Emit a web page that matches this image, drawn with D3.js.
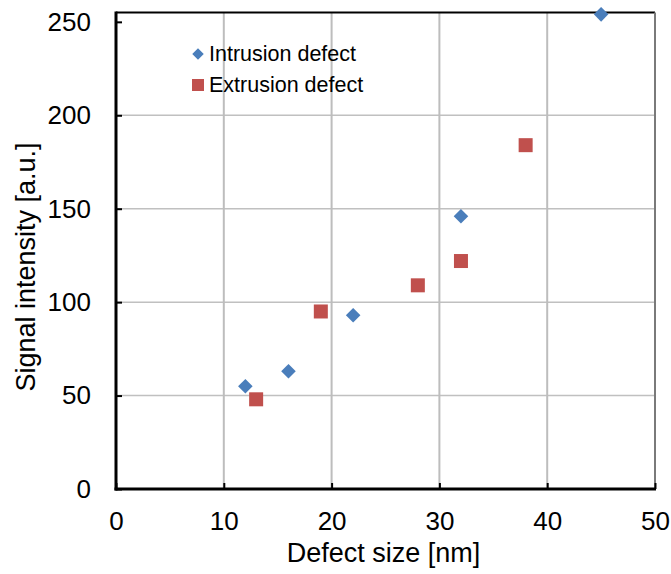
<!DOCTYPE html>
<html>
<head>
<meta charset="utf-8">
<title>Signal intensity vs defect size</title>
<script src="https://cdn.jsdelivr.net/npm/d3@7"></script>
<style>
  body { margin: 0; background: #fff; }
  text { font-family: "Liberation Sans", Arial, sans-serif; fill: #000; }
</style>
</head>
<body>
<svg width="671" height="574"></svg>
<script>
// data
var intrusionSize = [12, 16, 22, 32, 45];
var intrusionSignal = [55, 63, 93, 146, 254];
var extrusionSize = [13, 19, 28, 32, 38];
var extrusionSignal = [48, 95, 109, 122, 184];
var xTicks = [0, 10, 20, 30, 40, 50];
var yTicks = [0, 50, 100, 150, 200, 250];
var seriesNames = ["Intrusion defect", "Extrusion defect"];

var svg = d3.select("svg");
var margin = {top: 12.5, right: 16, bottom: 85, left: 116};
var width = 671 - margin.left - margin.right;
var height = 574 - margin.top - margin.bottom;

var x = d3.scaleLinear().domain([0, 50]).range([0, width]);
var y = d3.scaleLinear().domain([0, 255]).range([height, 0]);

var g = svg.append("g")
  .attr("transform", "translate(" + margin.left + "," + margin.top + ")");

// gridlines
g.append("g").selectAll("line")
  .data(yTicks.filter(function(d){ return d > 0 && d < 250; }))
  .enter().append("line")
  .attr("x1", 0).attr("x2", width)
  .attr("y1", function(d){ return y(d); })
  .attr("y2", function(d){ return y(d); })
  .attr("stroke", "#c0c0c0").attr("stroke-width", 1.5);

g.append("g").selectAll("line")
  .data(xTicks.filter(function(d){ return d > 0 && d < 50; }))
  .enter().append("line")
  .attr("x1", function(d){ return x(d); })
  .attr("x2", function(d){ return x(d); })
  .attr("y1", 0).attr("y2", height)
  .attr("stroke", "#bdbdbd").attr("stroke-width", 2);

// frame: top black, right grey
g.append("line").attr("x1", 0).attr("x2", width).attr("y1", 0).attr("y2", 0)
  .attr("stroke", "#000").attr("stroke-width", 2);
g.append("line").attr("x1", width).attr("x2", width).attr("y1", 0).attr("y2", height)
  .attr("stroke", "#7a7a7a").attr("stroke-width", 2);

// axes
var xAxis = g.append("g")
  .attr("transform", "translate(0," + height + ")")
  .call(d3.axisBottom(x).tickValues(xTicks).tickSizeInner(-6).tickSizeOuter(0).tickPadding(23));
var yAxis = g.append("g")
  .call(d3.axisLeft(y).tickValues(yTicks).tickSizeInner(-6).tickSizeOuter(0).tickPadding(25));

[xAxis, yAxis].forEach(function(a){
  a.select(".domain").attr("stroke", "#000").attr("stroke-width", 3);
  a.selectAll(".tick line").attr("stroke", "#000").attr("stroke-width", 2);
  a.selectAll(".tick text")
    .attr("font-family", "Liberation Sans, Arial, sans-serif")
    .attr("font-size", 26).attr("fill", "#111");
});
xAxis.select(".domain").attr("d", "M-1.5,0H" + (width + 1));
yAxis.select(".domain").attr("d", "M0," + (height + 1.5) + "V-1");

// axis titles
g.append("text")
  .attr("x", width / 2 - 2).attr("y", height + 73)
  .attr("text-anchor", "middle").attr("font-size", 27)
  .text("Defect size [nm]");
svg.append("text")
  .attr("transform", "translate(35,267) rotate(-90)")
  .attr("text-anchor", "middle").attr("font-size", 27)
  .text("Signal intensity [a.u.]");

// markers
var intrusion = intrusionSize.map(function(d, i){ return {x: d, y: intrusionSignal[i]}; });
var extrusion = extrusionSize.map(function(d, i){ return {x: d, y: extrusionSignal[i]}; });

var diamond = d3.symbol().type(d3.symbolDiamond2).size(135);

g.append("g").selectAll("rect")
  .data(extrusion).enter().append("rect")
  .attr("x", function(d){ return x(d.x) - 7; })
  .attr("y", function(d){ return y(d.y) - 7; })
  .attr("width", 14).attr("height", 14)
  .attr("fill", "#c0504d");

g.append("g").selectAll("path")
  .data(intrusion).enter().append("path")
  .attr("d", diamond)
  .attr("transform", function(d){ return "translate(" + x(d.x) + "," + y(d.y) + ")"; })
  .attr("fill", "#4a7ebb");

// legend
var legend = svg.append("g");
legend.append("path").attr("d", d3.symbol().type(d3.symbolDiamond2).size(85))
  .attr("transform", "translate(198,54)").attr("fill", "#4a7ebb");
legend.append("rect").attr("x", 192).attr("y", 79).attr("width", 12).attr("height", 12)
  .attr("fill", "#c0504d");
legend.selectAll("text.lbl")
  .data(seriesNames).enter().append("text")
  .attr("class", "lbl")
  .attr("x", 209)
  .attr("y", function(d, i){ return 61 + i * 31; })
  .attr("font-size", 21.5)
  .text(function(d){ return d; });
</script>
</body>
</html>
